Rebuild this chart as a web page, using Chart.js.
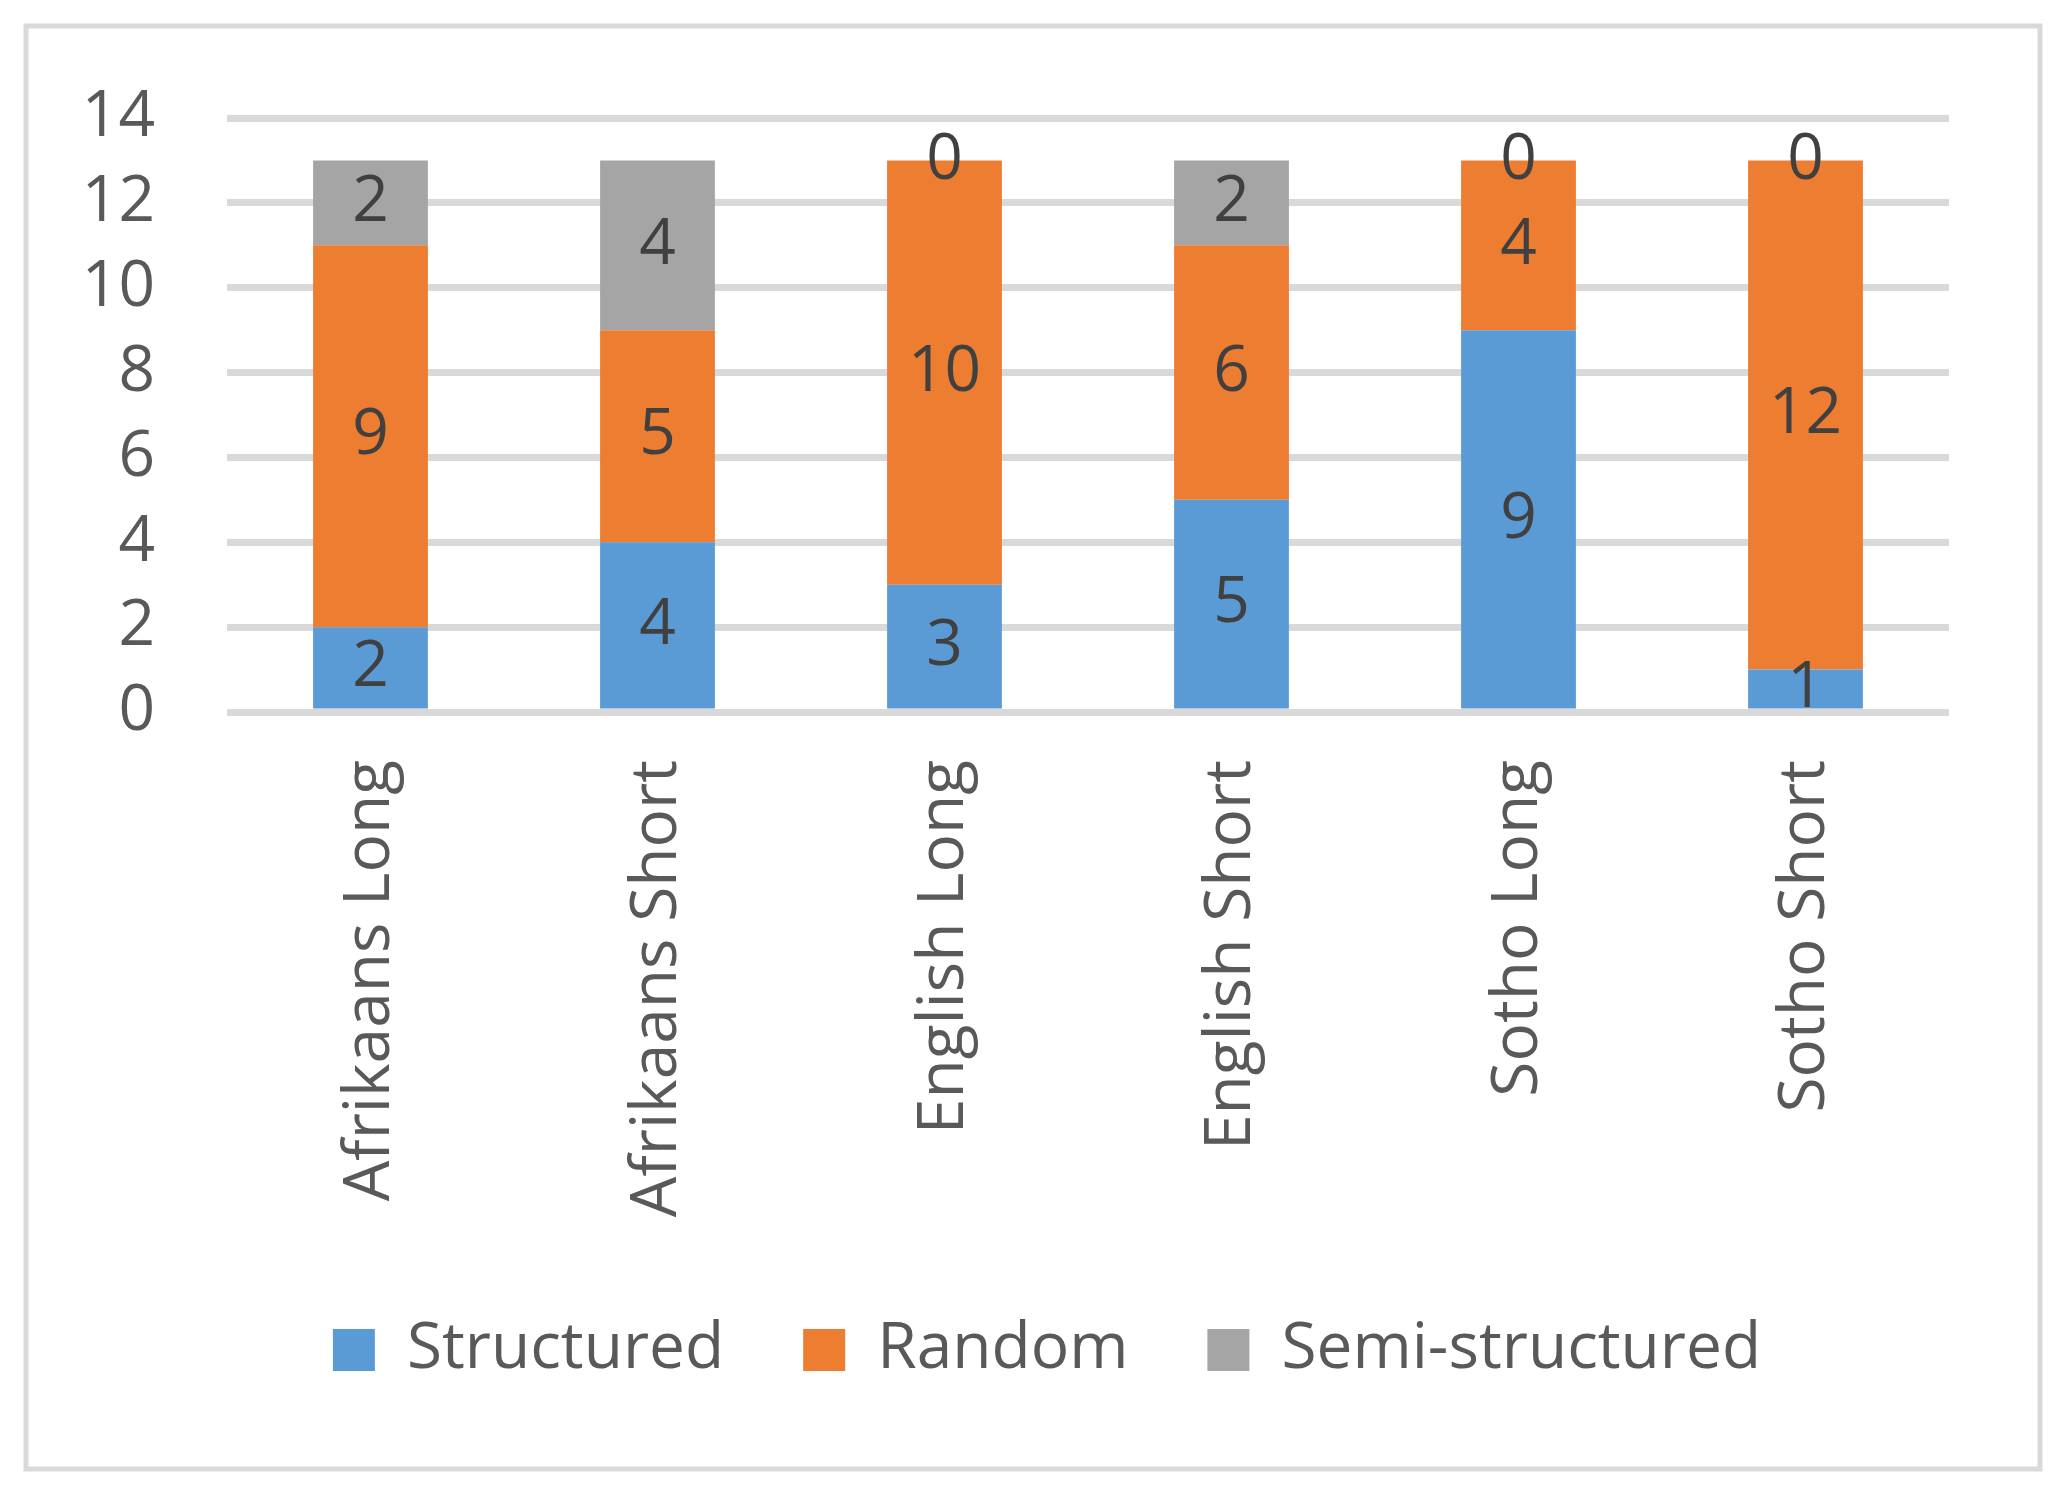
<!DOCTYPE html>
<html>
<head>
<meta charset="utf-8">
<script src="https://cdn.jsdelivr.net/npm/chart.js@4.4.1/dist/chart.umd.min.js"></script>
<style>
  html, body { margin: 0; padding: 0; background: #fff; }
  canvas { display: block; }
</style>
</head>
<body>
<canvas id="chart" width="2067" height="1495"></canvas>
<script>
// Chart data
const categories = ['Afrikaans Long', 'Afrikaans Short', 'English Long', 'English Short', 'Sotho Long', 'Sotho Short']
const structured = [2, 4, 3, 5, 9, 1]
const random = [9, 5, 10, 6, 4, 12]
const semiStructured = [2, 4, 0, 2, 0, 0]
const seriesNames = ['Structured', 'Random', 'Semi-structured']
const seriesColors = ['#5B9BD5', '#ED7D31', '#A5A5A5']
const yTicks = [0, 2, 4, 6, 8, 10, 12, 14]

const FONT = '"Open Sans", "Noto Sans", sans-serif'

// Outer frame drawn around the whole chart, like the Excel chart border
const framePlugin = {
  id: 'frame',
  beforeDraw(chart) {
    const ctx = chart.ctx
    ctx.save()
    ctx.fillStyle = '#fff'
    ctx.fillRect(0, 0, chart.width, chart.height)
    ctx.strokeStyle = '#D9D9D9'
    ctx.lineWidth = 5
    ctx.strokeRect(26, 26, 2040 - 26, 1469 - 26)
    ctx.restore()
  },
  // centre the legend on the whole frame rather than on the padded area
  afterLayout(chart) {
    if (chart.legend) chart.legend.left = 145
  }
}

// Value labels centred in each bar segment
const valueLabels = {
  id: 'valueLabels',
  afterDatasetsDraw(chart) {
    const ctx = chart.ctx
    ctx.save()
    ctx.font = '64px ' + FONT
    ctx.fillStyle = '#404040'
    ctx.textAlign = 'center'
    ctx.textBaseline = 'middle'
    chart.data.datasets.forEach((ds, di) => {
      const meta = chart.getDatasetMeta(di)
      meta.data.forEach((bar, i) => {
        const { x, y, base } = bar.getProps(['x', 'y', 'base'], true)
        ctx.fillText(String(ds.data[i]), x, (y + base) / 2)
      })
    })
    ctx.restore()
  }
}

new Chart(document.getElementById('chart'), {
  type: 'bar',
  data: {
    labels: categories,
    datasets: [structured, random, semiStructured].map((d, i) => ({
      label: seriesNames[i],
      data: d,
      backgroundColor: seriesColors[i],
      borderWidth: 0,
      categoryPercentage: 1,
      barPercentage: 0.4
    }))
  },
  options: {
    responsive: false,
    animation: false,
    layout: { padding: { left: 0, right: 118, top: 118, bottom: 103 } },
    plugins: {
      tooltip: { enabled: false },
      legend: {
        position: 'bottom',
        labels: {
          font: { family: FONT, size: 64 },
          color: '#595959',
          boxWidth: 42,
          boxHeight: 42,
          padding: 79
        }
      }
    },
    scales: {
      x: {
        stacked: true,
        grid: { display: false },
        border: { display: false },
        ticks: {
          color: '#595959',
          font: { family: FONT, size: 64 },
          minRotation: 90,
          maxRotation: 90,
          padding: 40
        },
        afterFit(scale) { scale.height = 527 }
      },
      y: {
        stacked: true,
        min: 0,
        max: 14,
        afterBuildTicks(scale) { scale.ticks = yTicks.map(v => ({ value: v })) },
        grid: { color: '#D9D9D9', lineWidth: 7, drawTicks: false },
        border: { display: false },
        ticks: {
          color: '#595959',
          font: { family: FONT, size: 64 },
          padding: 72
        },
        afterFit(scale) { scale.width = 227 }
      }
    }
  },
  plugins: [framePlugin, valueLabels]
})
</script>
</body>
</html>
